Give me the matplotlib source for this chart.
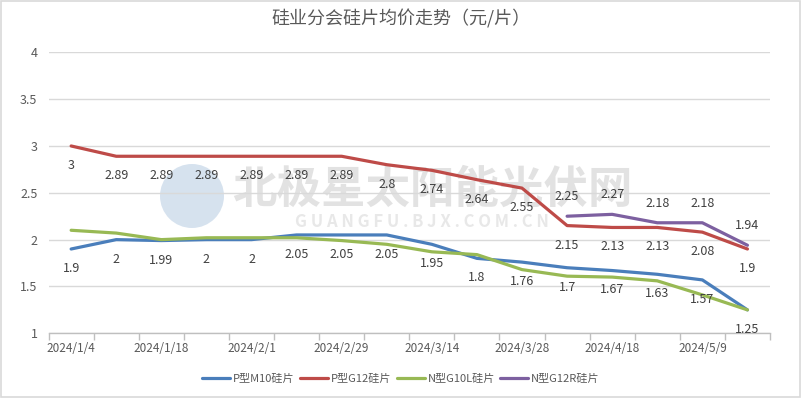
import matplotlib
matplotlib.use("Agg")
import matplotlib.pyplot as plt
from matplotlib.patches import Circle
import numpy as np

plt.rcParams['font.family'] = ['Noto Sans CJK SC', 'DejaVu Sans']

categories = ["2024/1/4", "2024/1/11", "2024/1/18", "2024/1/25", "2024/2/1", "2024/2/21",
              "2024/2/29", "2024/3/7", "2024/3/14", "2024/3/21", "2024/3/28", "2024/4/11",
              "2024/4/18", "2024/4/25", "2024/5/9", "2024/5/16"]
p_m10 = [1.9, 2, 1.99, 2, 2, 2.05, 2.05, 2.05, 1.95, 1.8, 1.76, 1.7, 1.67, 1.63, 1.57, 1.25]
p_g12 = [3, 2.89, 2.89, 2.89, 2.89, 2.89, 2.89, 2.8, 2.74, 2.64, 2.55, 2.15, 2.13, 2.13, 2.08, 1.9]
n_g10l = [2.10, 2.07, 2.00, 2.02, 2.02, 2.02, 1.99, 1.95, 1.87, 1.84, 1.68, 1.61, 1.60, 1.56, 1.41, 1.25]
n_g12r = [None] * 11 + [2.25, 2.27, 2.18, 2.18, 1.94]

series_names = ["P型M10硅片", "P型G12硅片", "N型G10L硅片", "N型G12R硅片"]
colors = ["#4A7EBB", "#BE4B48", "#98B954", "#7D60A0"]
title = "硅业分会硅片均价走势（元/片）"

W, H = 802, 399
fig = plt.figure(figsize=(W / 100, H / 100), dpi=100)
fig.patch.set_facecolor("white")

# background layer: border + watermark
bg = fig.add_axes([0, 0, 1, 1], zorder=-1)
bg.set_xlim(0, W)
bg.set_ylim(H, 0)
bg.axis("off")
bg.add_patch(plt.Rectangle((0.8, 0.8), W - 2.6, H - 2.6, fill=False, edgecolor="#D9D9D9", lw=1.2))
bg.add_patch(Circle((192, 196), 32, color="#C5D6E8", alpha=0.7, lw=0))
bg.text(432, 190, "北极星太阳能光伏网", fontsize=32, fontweight="bold", color="#CFCFCF",
        alpha=0.6, ha="center", va="center")
bg.text(422, 222, "G U A N G F U . B J X . C O M . C N", fontsize=12, fontweight="bold",
        color="#D9D9D9", alpha=0.6, ha="center", va="center", fontstyle="italic")

x0, x1 = 48.6, 770
ytop, ybot = 52.3, 333.3
ax = fig.add_axes([x0 / W, (H - ybot) / H, (x1 - x0) / W, (ybot - ytop) / H])
ax.patch.set_alpha(0)
ax.set_xlim(-0.5, len(categories) - 0.5)
ax.set_ylim(1, 4)

x = np.arange(len(categories))
all_series = [p_m10, p_g12, n_g10l, n_g12r]
for vals, c, name in zip(all_series, colors, series_names):
    v = np.array([np.nan if a is None else a for a in vals], dtype=float)
    ax.plot(x, v, color=c, lw=2.3, label=name, solid_capstyle="round", solid_joinstyle="round")

lab_kw = dict(fontsize=9, color="#404040", ha="center", va="center")
for i, v in enumerate(p_m10):
    ax.annotate(f"{v:g}", (x[i], v), xytext=(0, -14), textcoords="offset points", **lab_kw)
for i, v in enumerate(p_g12):
    ax.annotate(f"{v:g}", (x[i], v), xytext=(0, -14), textcoords="offset points", **lab_kw)
for i, v in enumerate(n_g12r):
    if v is not None:
        ax.annotate(f"{v:g}", (x[i], v), xytext=(0, 14), textcoords="offset points", **lab_kw)

# grid & axes
yt = np.arange(1, 4.01, 0.5)
ax.set_yticks(yt)
ax.set_yticklabels([f"{t:g}" for t in yt])
ax.yaxis.grid(True, color="#D9D9D9", lw=1)
ax.set_axisbelow(True)
for s in ["top", "right", "left"]:
    ax.spines[s].set_visible(False)
ax.spines["bottom"].set_color("#BFBFBF")
ax.spines["bottom"].set_linewidth(1)
ax.tick_params(axis="y", length=0, pad=8, labelsize=9, labelcolor="#595959")

ax.set_xticks(np.arange(-0.5, len(categories), 1.0))
ax.set_xticklabels([])
ax.tick_params(axis="x", which="major", length=5, color="#BFBFBF", width=1)
ax.set_xticks(x[::2], minor=True)
ax.set_xticklabels(categories[::2], minor=True)
ax.tick_params(axis="x", which="minor", length=0, pad=6, labelsize=8.5, labelcolor="#595959")

fig.text(0.5, 1 - 19 / H, title, fontsize=13, color="#595959", ha="center", va="center")

fig.legend(loc="center", bbox_to_anchor=(0.5, 1 - 379 / H), ncol=4, frameon=False,
           fontsize=8, handlelength=2.5, handletextpad=0.25, columnspacing=0.5,
           labelcolor="#595959")

fig.savefig("out.png", dpi=100, facecolor="white")
